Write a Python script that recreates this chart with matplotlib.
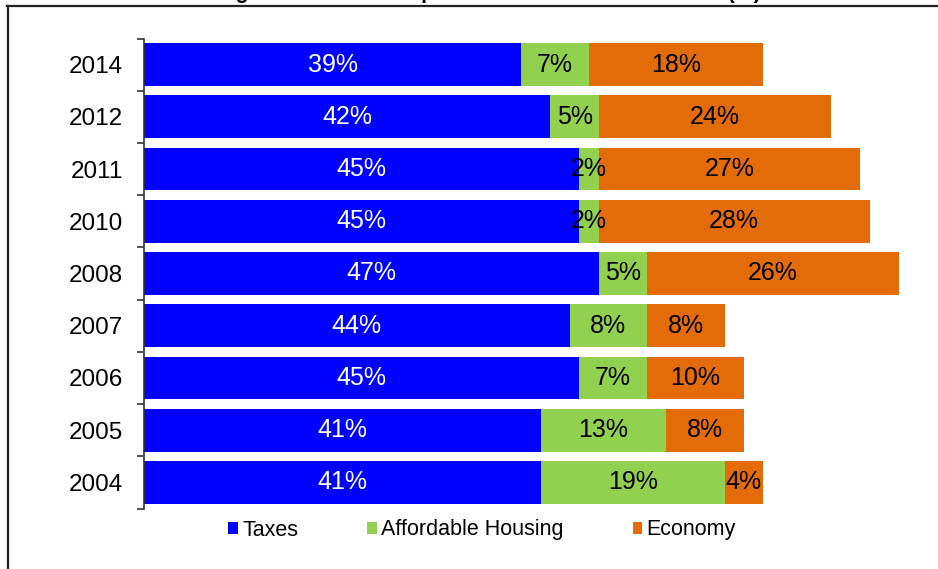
import matplotlib
matplotlib.use("Agg")
import matplotlib.pyplot as plt
from matplotlib.patches import Patch
from matplotlib.lines import Line2D
import numpy as np

plt.rcParams['font.family'] = ['Liberation Sans', 'DejaVu Sans']

years = ["2004", "2005", "2006", "2007", "2008", "2010", "2011", "2012", "2014"]
taxes = [41, 41, 45, 44, 47, 45, 45, 42, 39]
housing = [19, 13, 7, 8, 5, 2, 2, 5, 7]
economy = [4, 8, 10, 8, 26, 28, 27, 24, 18]
series_names = ["Taxes", "Affordable Housing", "Economy"]
colors = ["#0000FF", "#92D050", "#E36C09"]
label_colors = ["white", "black", "black"]
title = "Long Island's Most Important Problem 2004 to 2014 (%)"

W, H = 938, 569
fig = plt.figure(figsize=(W / 100, H / 100), dpi=100)

# frame lines (top and left) of the original chart box
fig.add_artist(Line2D([6.5 / W, 1.0], [1 - 5.5 / H, 1 - 5.5 / H], transform=fig.transFigure,
                      color="#222222", lw=1.6))
fig.add_artist(Line2D([7.5 / W, 7.5 / W], [0, 1 - 5.5 / H], transform=fig.transFigure,
                      color="#222222", lw=1.6))

# title, mostly cut off above the image (only descenders visible)
fig.text(478 / W, 1 + 2 / H, title, ha="center", va="baseline", fontsize=15.5,
         fontweight="bold", color="black")

left_px, right_px, top_px, bot_px = 144, 918, 38.5, 508.5
ax = fig.add_axes([left_px / W, 1 - bot_px / H, (right_px - left_px) / W, (bot_px - top_px) / H])

y = np.arange(len(years))
data = [taxes, housing, economy]
lefts = np.zeros(len(years))
for vals, name, col, lc in zip(data, series_names, colors, label_colors):
    vals = np.array(vals, dtype=float)
    ax.barh(y, vals, left=lefts, height=0.82, color=col, label=name, edgecolor="none")
    for yi, l, v in zip(y, lefts, vals):
        ax.text(l + v / 2, yi, f"{int(v)}%", ha="center", va="center", fontsize=18, color=lc)
    lefts = lefts + vals

ax.set_xlim(0, 80)
ax.set_ylim(-0.5, len(years) - 0.5)
ax.set_xticks([])
ax.set_yticks(np.arange(-0.5, len(years)), labels=[""] * (len(years) + 1))
ax.tick_params(axis="y", which="major", length=5, width=1.2, direction="out", color="#333333")
ax.set_yticks(y, labels=years, minor=True)
ax.tick_params(axis="y", which="minor", length=0, pad=15, labelsize=17.5)
for s in ["top", "right", "bottom"]:
    ax.spines[s].set_visible(False)
ax.spines["left"].set_color("#333333")
ax.spines["left"].set_linewidth(1.2)

handles = [Patch(facecolor=c, edgecolor="none", label=n) for c, n in zip(colors, series_names)]
fig.legend(handles=handles, loc="center", bbox_to_anchor=(482 / W, 1 - 530 / H), ncol=3,
           frameon=False, fontsize=15.5, handlelength=0.45, handleheight=0.45,
           handletextpad=0.2, columnspacing=3.2, borderpad=0)

fig.savefig("out.png", dpi=100)
